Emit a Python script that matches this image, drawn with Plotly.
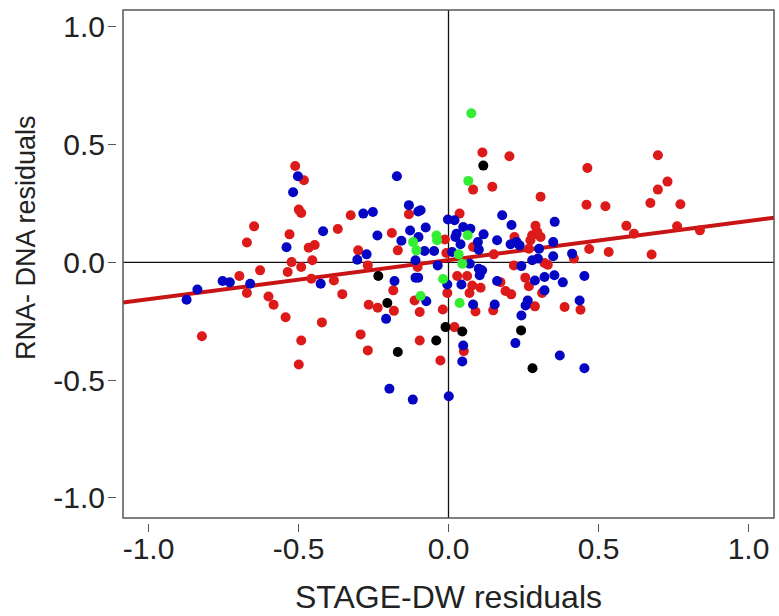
import plotly.graph_objects as go

# ---- data ----
red_x = [-0.648, -0.672, -0.628, -0.697, -0.672, -0.600, -0.583, -0.822,
         -0.511, -0.482, -0.499, -0.491, -0.326, -0.132, -0.530, -0.369, -0.189, -0.012,
         -0.169, -0.301, -0.007, -0.466, -0.446, -0.523, -0.454, -0.536, -0.491, -0.269,
         -0.103, -0.457, -0.382, -0.184, -0.354, -0.004, -0.113, -0.266, -0.236, -0.182,
         -0.096, -0.019, -0.543, -0.422, 0.020, -0.293, -0.491, -0.096, -0.269, -0.027, -0.499,
         0.113, 0.203, 0.463, 0.082, 0.146, 0.307, 0.460, 0.523, 0.037, 0.290, 0.296,
         0.307, 0.279, 0.273, 0.220, 0.082, 0.151, 0.268, 0.469, 0.534, 0.418, 0.320,
         0.331, 0.218, 0.029, 0.062, 0.256, 0.173, 0.079, 0.107, 0.268, 0.070, 0.190,
         0.209, 0.312, 0.288, 0.387, 0.440, 0.090, 0.149, 0.051,
         0.698, 0.730, 0.698, 0.673, 0.773, 0.593, 0.618, 0.762, 0.838, 0.677]
red_y = [0.153, 0.084, -0.034, -0.058, -0.130, -0.145, -0.180, -0.314,
         0.409, 0.349, 0.224, 0.210, 0.200, 0.204, 0.119, 0.142, 0.125, 0.097,
         0.051, 0.051, 0.040, 0.062, 0.074, 0.001, 0.009, -0.041, -0.020, -0.013,
         -0.020, -0.070, -0.077, -0.119, -0.135, -0.130, -0.162, -0.180, -0.193, -0.206,
         -0.211, -0.200, -0.233, -0.255, -0.275, -0.306, -0.332, -0.332, -0.374, -0.417, -0.434,
         0.467, 0.451, 0.401, 0.309, 0.321, 0.279, 0.245, 0.238, 0.207, 0.155, 0.129,
         0.108, 0.115, 0.094, 0.108, 0.065, 0.034, 0.058, 0.057, 0.044, 0.016, -0.003,
         -0.010, -0.013, -0.058, -0.058, -0.065, -0.084, -0.098, -0.108, -0.101, -0.130, -0.122,
         -0.136, -0.130, -0.187, -0.190, -0.201, -0.209, -0.204, -0.377,
         0.455, 0.343, 0.309, 0.252, 0.247, 0.155, 0.122, 0.153, 0.136, 0.033]

blue_x = [-0.753, -0.729, -0.661, -0.837, -0.873,
          -0.502, -0.518, -0.172, -0.284, -0.252, -0.132, -0.101, -0.093, -0.002, -0.418,
          -0.237, -0.157, -0.128, -0.076, -0.100, -0.080, -0.048, -0.273, -0.304, -0.540,
          -0.110, -0.036, -0.180, -0.110, -0.101, -0.004, -0.426, -0.074, -0.208,
          0.046, -0.197, -0.119, 0.001,
          0.020, 0.179, 0.210, 0.354, 0.049, 0.073, 0.027, 0.117, 0.162, 0.227, 0.207,
          0.237, 0.098, 0.040, 0.023, 0.101, 0.012, 0.302, 0.349, 0.349, 0.412, 0.279,
          0.298, 0.071, 0.243, 0.101, 0.112, 0.104, 0.453, 0.353, 0.320, 0.288, 0.381,
          0.162, 0.043, 0.320, 0.264, 0.257, 0.437, 0.082, 0.154, 0.243, 0.223, 0.049,
          0.371, 0.453]
blue_y = [-0.079, -0.085, -0.091, -0.115, -0.159,
          0.366, 0.298, 0.366, 0.207, 0.214, 0.243, 0.216, 0.221, 0.182, 0.132,
          0.114, 0.092, 0.135, 0.148, 0.108, 0.048, 0.048, 0.034, 0.011, 0.064,
          0.009, -0.013, -0.079, -0.065, -0.065, -0.094, -0.091, -0.165, -0.240,
          -0.421, -0.537, -0.583, -0.569,
          0.179, 0.200, 0.159, 0.172, 0.150, 0.143, 0.122, 0.119, 0.094, 0.086, 0.077,
          0.072, 0.086, 0.077, 0.108, 0.054, 0.044, 0.058, 0.086, 0.026, 0.037, 0.009,
          0.016, -0.006, -0.016, -0.027, -0.034, -0.055, -0.058, -0.055, -0.062, -0.077, -0.085,
          -0.079, -0.094, -0.119, -0.162, -0.183, -0.162, -0.179, -0.179, -0.226, -0.343, -0.353,
          -0.396, -0.450]

green_x = [-0.118, -0.040, -0.038, -0.107, -0.018, -0.093, 0.076, 0.066, 0.064, 0.034, 0.046, 0.037]
green_y = [0.086, 0.114, 0.094, 0.051, -0.071, -0.143, 0.633, 0.346, 0.115, 0.034, -0.006, -0.173]

black_x = [-0.234, -0.204, -0.010, -0.041, -0.169, 0.116, 0.046, 0.242, 0.280]
black_y = [-0.058, -0.173, -0.275, -0.332, -0.381, 0.411, -0.294, -0.289, -0.450]

fit_intercept = 0.0097
fit_slope = 0.166

x_range = [-1.085, 1.085]
y_range = [-1.086, 1.072]
tick_vals = [-1.0, -0.5, 0.0, 0.5, 1.0]
tick_text = ["-1.0", "-0.5", "0.0", "0.5", "1.0"]

x_title = "STAGE-DW residuals"
y_title = "RNA- DNA residuals"

FONT = "Arial, Liberation Sans, sans-serif"

fig = go.Figure()

# regression line across the full plot width
line_x = x_range
line_y = [fit_intercept + fit_slope * v for v in line_x]
fig.add_trace(go.Scatter(x=line_x, y=line_y, mode="lines",
                         line=dict(color="#c81414", width=4), hoverinfo="skip"))

groups = [
    (red_x, red_y, "#dd1a1a"),
    (blue_x, blue_y, "#0505c4"),
    (green_x, green_y, "#33ee33"),
    (black_x, black_y, "#000000"),
]
for gx, gy, col in groups:
    fig.add_trace(go.Scatter(x=gx, y=gy, mode="markers",
                             marker=dict(color=col, size=10, line=dict(width=0))))

# reference lines at zero
fig.add_shape(type="line", xref="x", yref="y domain", x0=0, x1=0, y0=0, y1=1,
              line=dict(color="#111111", width=1.3), layer="below")
fig.add_shape(type="line", xref="x domain", yref="y", x0=0, x1=1, y0=0, y1=0,
              line=dict(color="#111111", width=1.3), layer="below")
# box
fig.add_shape(type="rect", xref="x domain", yref="y domain", x0=0, x1=1, y0=0, y1=1,
              line=dict(color="#555555", width=1.5), layer="above")

W, H = 779, 616
ml, mr, mt, mb = 116, 5, 10, 93
pw = W - ml - mr
ph = H - mt - mb

fig.update_layout(
    width=W, height=H,
    margin=dict(l=ml, r=mr, t=mt, b=mb),
    plot_bgcolor="white", paper_bgcolor="white",
    showlegend=False,
    font=dict(family=FONT, color="#222222"),
    xaxis=dict(range=x_range, domain=[7 / pw, 1], anchor="free", position=0,
               tickvals=tick_vals, ticktext=tick_text, ticks="outside", ticklen=8,
               tickcolor="#555555", tickwidth=1.3, showgrid=False, zeroline=False,
               showline=False, ticklabelstandoff=-9,
               tickfont=dict(size=30, family=FONT, color="#222222")),
    yaxis=dict(range=y_range, domain=[5 / ph, 1], anchor="free", position=0,
               tickvals=tick_vals, ticktext=tick_text, ticks="outside", ticklen=8,
               tickcolor="#555555", tickwidth=1.3, showgrid=False, zeroline=False,
               showline=False, ticklabelstandoff=-3,
               tickfont=dict(size=30, family=FONT, color="#222222")),
    annotations=[
        dict(text=x_title, xref="paper", yref="paper", x=(448.5 - ml) / pw,
             y=(H - mb - 597) / ph, xanchor="center", yanchor="middle", showarrow=False,
             font=dict(size=32, family=FONT, color="#222222")),
        dict(text=y_title, xref="paper", yref="paper", x=(26 - ml) / pw,
             y=(H - mb - 238) / ph, xanchor="center", yanchor="middle", showarrow=False,
             textangle=-90, font=dict(size=27, family=FONT, color="#222222")),
    ],
)

fig.write_html("out.html")
